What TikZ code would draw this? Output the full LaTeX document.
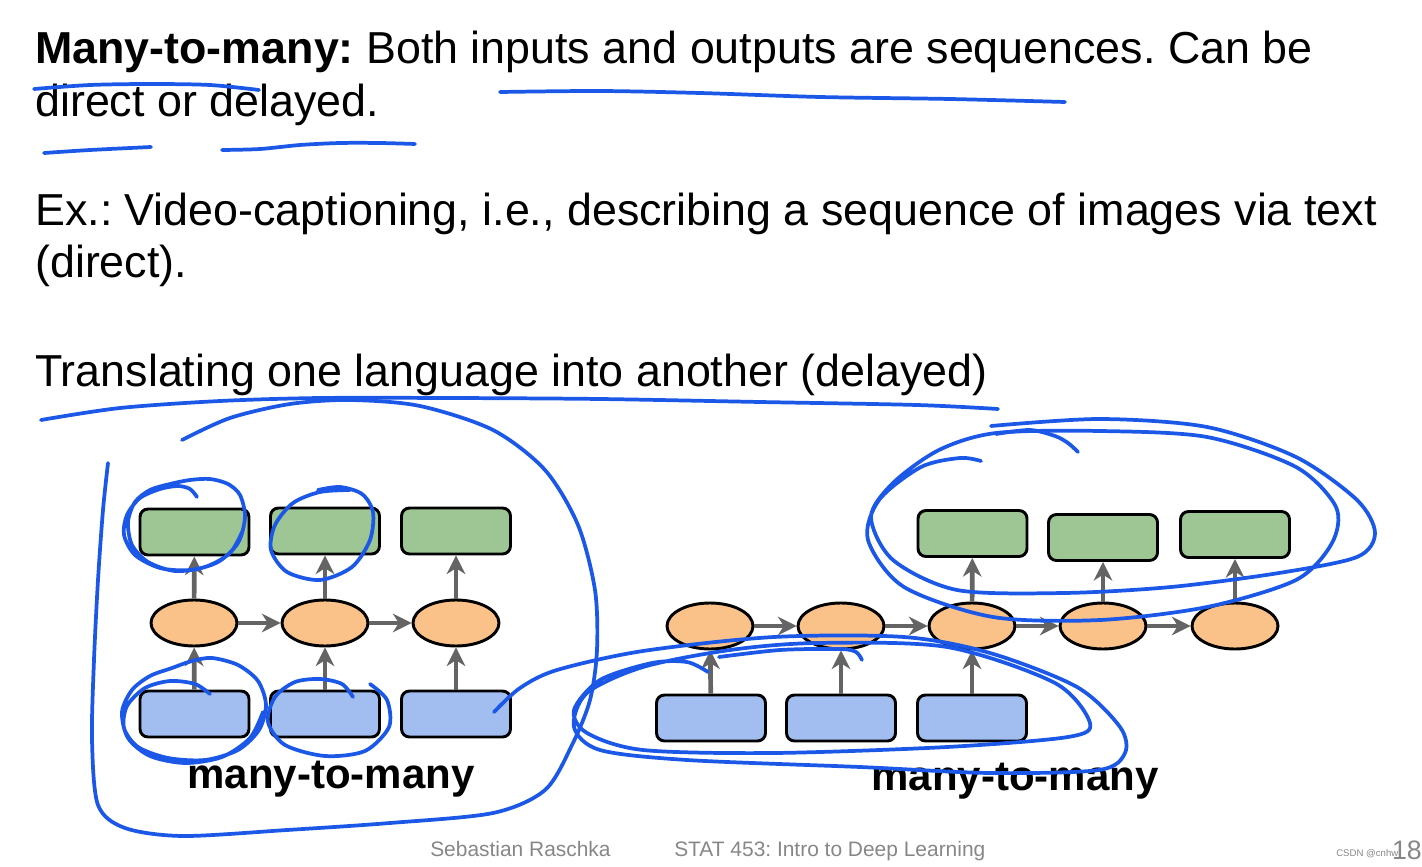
\documentclass[tikz,border=0pt]{standalone}
\usepackage{fontspec}
\setmainfont{Liberation Sans}
\usetikzlibrary{arrows.meta,shapes.geometric}
\definecolor{boxgreen}{RGB}{158,197,148}
\definecolor{boxorange}{RGB}{250,194,136}
\definecolor{boxblue}{RGB}{162,190,240}
\definecolor{arrgray}{RGB}{100,100,100}
\definecolor{penblue}{RGB}{28,88,232}
\definecolor{footgray}{RGB}{135,135,135}
\frenchspacing
\begin{document}
\begin{tikzpicture}[x=0.75pt,y=-0.75pt,
 cell/.style={draw=black,line width=2.2pt,rounded corners=6pt,minimum width=81.75pt,minimum height=34.5pt,inner sep=0pt},
 outcell/.style={cell,fill=boxgreen},
 incell/.style={cell,fill=boxblue},
 hid/.style={ellipse,draw=black,line width=2.2pt,fill=boxorange,minimum width=64.5pt,minimum height=34.5pt,inner sep=0pt},
 flow/.style={draw=arrgray,line width=3.5pt,-{Stealth[length=14pt,width=14pt,inset=4.5pt]}},
 pen/.style={draw=penblue,line width=2.8pt,line cap=round,line join=round},
 body/.style={inner sep=0pt,anchor=base west,font=\fontsize{33.6}{40}\selectfont},
 caption/.style={inner sep=0pt,anchor=base,font=\fontsize{31.5}{38}\selectfont\bfseries},
 foot/.style={inner sep=0pt,anchor=base west,text=footgray,font=\fontsize{15.7}{18}\selectfont}]
\useasboundingbox[fill=white] (0,0) rectangle (1422,867);

% ---- text ----
\node[body] (t1) at (35,64) {\textbf{Many-to-many:} Both inputs and outputs are sequences. Can be};
\node[body] (t2) at (35,117) {direct or delayed.};
\node[body] (t3) at (35,225) {Ex.: Video-captioning, i.e., describing a sequence of images via text};
\node[body] (t4) at (35,277) {(direct).};
\node[body] (t5) at (35,386) {Translating one language into another (delayed)};

% ---- left diagram ----
\node[outcell] (g1) at (194.5,532) {};
\node[outcell] (g2) at (325,531) {};
\node[outcell] (g3) at (456,531) {};
\node[hid] (e1) at (194,623) {};
\node[hid] (e2) at (325,623) {};
\node[hid] (e3) at (456,623) {};
\node[incell] (b1) at (194.5,714) {};
\node[incell] (b2) at (325,714) {};
\node[incell] (b3) at (456,714) {};
\foreach \i in {1,2,3}{
  \draw[flow] (b\i) -- (e\i);
  \draw[flow] (e\i) -- (g\i);
}
\draw[flow] (e1) -- (e2);
\draw[flow] (e2) -- (e3);
\node[caption] (c1) at (331,788) {many-to-many};

% ---- right diagram ----
\node[outcell] (rg1) at (972.5,533.5) {};
\node[outcell] (rg2) at (1103,537.5) {};
\node[outcell] (rg3) at (1235,534.5) {};
\node[hid] (re1) at (710,626) {};
\node[hid] (re2) at (841,626) {};
\node[hid] (re3) at (972,626) {};
\node[hid] (re4) at (1103,626) {};
\node[hid] (re5) at (1235,626) {};
\node[incell] (rb1) at (711,718) {};
\node[incell] (rb2) at (841,718) {};
\node[incell] (rb3) at (972,718) {};
\draw[flow] (rb1) -- (re1);
\draw[flow] (rb2) -- (re2);
\draw[flow] (rb3) -- (re3);
\draw[flow] (re3) -- (rg1);
\draw[flow] (re4) -- (rg2);
\draw[flow] (re5) -- (rg3);
\draw[flow] (re1) -- (re2);
\draw[flow] (re2) -- (re3);
\draw[flow] (re3) -- (re4);
\draw[flow] (re4) -- (re5);
\node[caption] (c2) at (1015,790) {many-to-many};

% ---- footer ----
\node[foot] (f1) at (430,856) {Sebastian Raschka};
\node[foot] (f2) at (674,856) {STAT 453: Intro to Deep Learning};
\node[inner sep=0pt,anchor=base west,text=footgray,font=\fontsize{7.2}{9}\selectfont] (wm) at (1336,856) {CSDN @cnhw};
\node[inner sep=0pt,anchor=base east,text=footgray,font=\fontsize{20}{24}\selectfont] (pg) at (1422,859) {18};

% ---- hand-drawn annotations ----
\draw[pen] plot[smooth] coordinates {(34,89) (90,85) (150,84) (210,85) (259,90)};
\draw[pen] plot[smooth] coordinates {(500,92) (600,91) (700,93) (820,97) (950,99) (1065,102)};
\draw[pen] plot[smooth] coordinates {(44,153) (90,150) (151,147)};
\draw[pen] plot[smooth] coordinates {(222,150) (260,149) (300,145) (340,143) (380,143) (415,144)};
\draw[pen] plot[smooth] coordinates {(41,420) (120,408) (220,401) (320,398) (450,398) (600,399) (760,402) (917,405) (998,409)};
% big loop around left diagram
\draw[pen] plot[smooth] coordinates {(182,440) (230,418) (290,404) (350,400) (420,406) (493,430) (545,470) (578,525) (595,590) (597,650) (590,700) (572,745) (545,790) (493,813) (390,823) (287,830) (183,836) (125,828) (98,805) (92,740) (94,660) (98,580) (103,510) (108,463)};
% green box 1 loops
\draw[pen] plot[smooth] coordinates {(197,497) (190,489) (178,486) (160,489) (140,498) (127,515) (124,535) (135,555) (160,568) (190,570) (218,562) (238,543) (245,517) (240,495) (228,484) (210,479) (190,480) (170,484) (150,490) (135,502) (128,522) (132,545) (148,562) (175,571) (205,567) (230,553) (243,530)};
% green box 2 loop
\draw[pen] plot[smooth] coordinates {(350,490) (320,492) (293,503) (275,525) (271,550) (287,572) (320,580) (352,567) (370,540) (373,512) (362,494) (340,487) (318,490)};
% blue box 1 loops
\draw[pen] plot[smooth] coordinates {(210,694) (195,684) (170,681) (145,688) (127,706) (124,728) (138,747) (168,758) (205,760) (238,750) (259,730) (266,705) (258,681) (238,665) (212,658) (192,661) (172,668) (150,676) (132,690) (122,712) (128,738) (150,756) (185,763) (222,757) (250,738) (263,712)};
% blue box 2 loop
\draw[pen] plot[smooth] coordinates {(353,697) (342,684) (320,679) (295,682) (275,697) (268,722) (285,745) (325,756) (365,751) (389,727) (387,700) (370,684)};
% stroke from left blue box 3 into loops around right inputs
\draw[pen] plot[smooth] coordinates {(494,712) (520,688) (557,670) (643,651) (774,637) (904,637) (990,653) (1077,687) (1120,727) (1125,753) (1099,770) (990,773) (860,767) (687,760) (600,750) (574,727) (587,693) (643,667) (730,650) (817,643) (947,647) (1055,683) (1090,723) (1068,737) (947,747) (774,753) (643,750) (587,733) (574,710) (600,680) (652,663) (687,662) (708,672)};
\draw[pen] plot[smooth] coordinates {(719,657) (780,650) (840,649) (856,652) (862,660)};
% loops around right outputs
\draw[pen] plot[smooth] coordinates {(991,426) (1100,419) (1207,427) (1296,457) (1357,500) (1375,533) (1357,557) (1279,573) (1171,587) (1064,593) (957,590) (893,560) (871,517) (893,483) (939,450) (996,433) (1100,431) (1207,437) (1296,467) (1336,507) (1332,543) (1296,580) (1207,607) (1100,620) (993,617) (904,587) (868,540) (879,500) (921,467) (960,458) (981,461)};
\draw[pen] plot[smooth] coordinates {(996,434) (1030,430) (1055,436) (1068,443) (1078,452)};
\end{tikzpicture}
\end{document}
